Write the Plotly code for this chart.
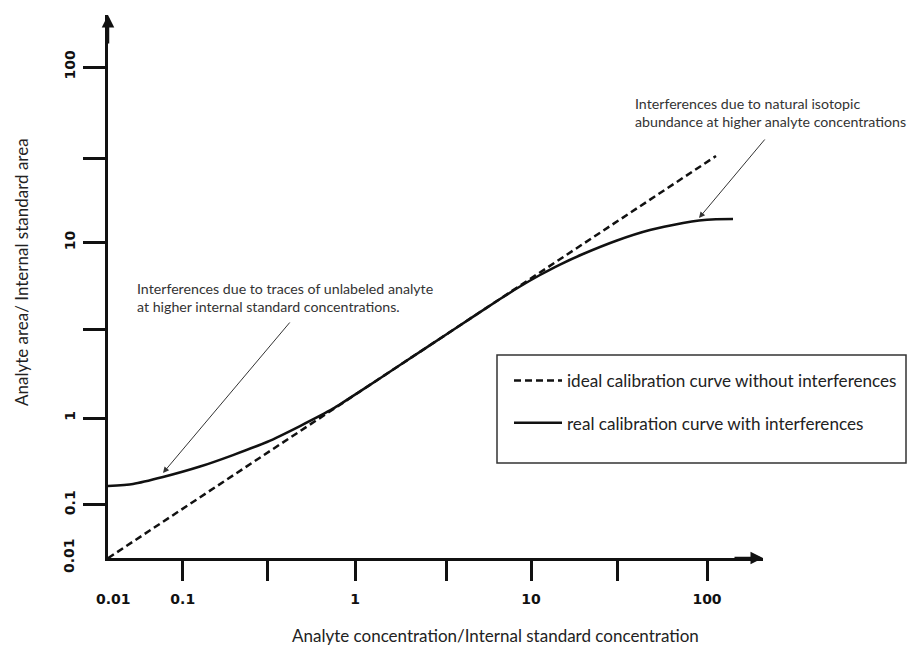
import plotly.graph_objects as go

# ---- data (schematic values) ----
ideal_x = [0.0395, 1.0, 112.5]
ideal_y = [0.159, 1.358, 31.1]

real_x = [0.0395, 0.0548, 0.0811, 0.1316, 0.2026, 0.3162, 0.487, 0.750, 1.068,
          1.802, 3.466, 6.667, 8.66, 11.25, 14.61, 19.75, 30.8, 47.4, 73.1,
          90.1, 112.5, 140.5]
real_y = [0.410, 0.421, 0.461, 0.529, 0.615, 0.730, 0.900, 1.130, 1.418,
          2.004, 3.09, 4.765, 5.615, 6.53, 7.49, 8.60, 10.27, 11.78, 12.92,
          13.35, 13.58, 13.61]

x_tickvals = [0.105, 0.32, 1, 3.3, 10, 31, 100]
x_ticktext = ["0.1", "", "1", "", "10", "", "100"]
y_tickvals = [0.32, 1, 3.2, 10, 30, 100]
y_ticktext = ["0.1", "1", "", "10", "", "100"]
origin_label = "0.01"

legend_names = ["ideal calibration curve without interferences",
                "real calibration curve with interferences"]
note_low = "Interferences due to traces of unlabeled analyte<br>at higher internal standard concentrations."
note_high = "Interferences due to natural isotopic<br>abundance at higher analyte concentrations"
x_title = "Analyte concentration/Internal standard concentration"
y_title = "Analyte area/ Internal standard area"

W, H = 907, 645
L, R, T, B = 108, 144, 15, 87

TEXT_FONT = "Lato"
TICK_FONT = dict(family="DejaVu Sans", size=14, color="#111", weight="bold")

fig = go.Figure()
fig.add_trace(go.Scatter(x=ideal_x, y=ideal_y, mode="lines", name=legend_names[0],
                         legendgroup="a",
                         line=dict(color="#111", width=2.5, dash="7px,4px")))
fig.add_trace(go.Scatter(x=real_x, y=real_y, mode="lines", name=legend_names[1],
                         legendgroup="b",
                         line=dict(color="#111", width=2.5, shape="spline", smoothing=0.6)))

pw, ph = W - L - R, H - T - B
def px(xp):
    return (xp - L) / pw
def py(yp):
    return (H - B - yp) / ph

fig.update_layout(
    width=W, height=H,
    margin=dict(l=L, r=R, t=T, b=B, autoexpand=False),
    paper_bgcolor="white", plot_bgcolor="white",
    showlegend=True,
    legend=dict(x=px(509), y=py(363),
                xanchor="left", yanchor="top",
                bgcolor="rgba(0,0,0,0)", borderwidth=0,
                font=dict(family=TEXT_FONT, size=17.1, color="#222"),
                tracegroupgap=17, itemwidth=48),
    xaxis=dict(type="log", range=[-1.4034, 2.3182],
               showgrid=False, zeroline=False,
               showline=True, linecolor="#111", linewidth=2.5,
               ticks="outside", ticklen=20, tickwidth=2.5, tickcolor="#111",
               tickvals=x_tickvals, ticktext=x_ticktext,
               tickfont=TICK_FONT, ticklabelstandoff=6),
    yaxis=dict(type="log", range=[-0.7977, 2.2963],
               showgrid=False, zeroline=False,
               showline=True, linecolor="#111", linewidth=2.5,
               ticks="outside", ticklen=22, tickwidth=2.5, tickcolor="#111",
               tickvals=y_tickvals, ticktext=y_ticktext, tickangle=-90,
               tickfont=TICK_FONT, ticklabelstandoff=3),
)

# legend box
fig.add_shape(type="rect", xref="paper", yref="paper",
              x0=px(497), x1=px(906), y0=py(463), y1=py(355),
              line=dict(color="#333", width=1.5), fillcolor="rgba(0,0,0,0)")

ann = []
# axis arrowheads
ann.append(dict(xref="paper", yref="paper", x=1, y=0, ax=-30, ay=0, text="",
                showarrow=True, arrowhead=2, arrowsize=1.0, arrowwidth=2.5, arrowcolor="#111"))
ann.append(dict(xref="paper", yref="paper", x=0, y=1, ax=0, ay=30, text="",
                showarrow=True, arrowhead=2, arrowsize=1.0, arrowwidth=2.5, arrowcolor="#111"))
# origin labels
ann.append(dict(xref="paper", yref="paper", x=px(113), y=py(599), text=origin_label,
                showarrow=False, font=TICK_FONT, xanchor="center", yanchor="middle"))
ann.append(dict(xref="paper", yref="paper", x=px(69), y=py(556), text=origin_label,
                showarrow=False, font=TICK_FONT, textangle=-90, xanchor="center", yanchor="middle"))
# axis titles
ann.append(dict(xref="paper", yref="paper", x=px(495), y=py(635), text=x_title,
                showarrow=False, font=dict(family=TEXT_FONT, size=17, color="#222"),
                xanchor="center", yanchor="middle"))
ann.append(dict(xref="paper", yref="paper", x=px(21), y=py(272), text=y_title,
                showarrow=False, font=dict(family=TEXT_FONT, size=17, color="#222"),
                textangle=-90, xanchor="center", yanchor="middle"))
# notes
ann.append(dict(xref="paper", yref="paper", x=px(135), y=py(278), text=note_low,
                showarrow=False, align="left", xanchor="left", yanchor="top",
                font=dict(family=TEXT_FONT, size=14.2, color="#333")))
ann.append(dict(xref="paper", yref="paper", x=px(633), y=py(93), text=note_high,
                showarrow=False, align="left", xanchor="left", yanchor="top",
                font=dict(family=TEXT_FONT, size=14.2, color="#333")))
# note arrows
ann.append(dict(xref="paper", yref="paper", x=px(163), y=py(473), ax=291 - 163, ay=321 - 473,
                text="", showarrow=True, arrowhead=2, arrowsize=1.2, arrowwidth=1,
                arrowcolor="#333"))
ann.append(dict(xref="paper", yref="paper", x=px(699), y=py(218), ax=766 - 699, ay=138 - 218,
                text="", showarrow=True, arrowhead=2, arrowsize=1.2, arrowwidth=1,
                arrowcolor="#333"))
fig.update_layout(annotations=ann)

fig.write_html("out.html", config={"displayModeBar": False},
               post_script="document.body.style.margin='0';")
